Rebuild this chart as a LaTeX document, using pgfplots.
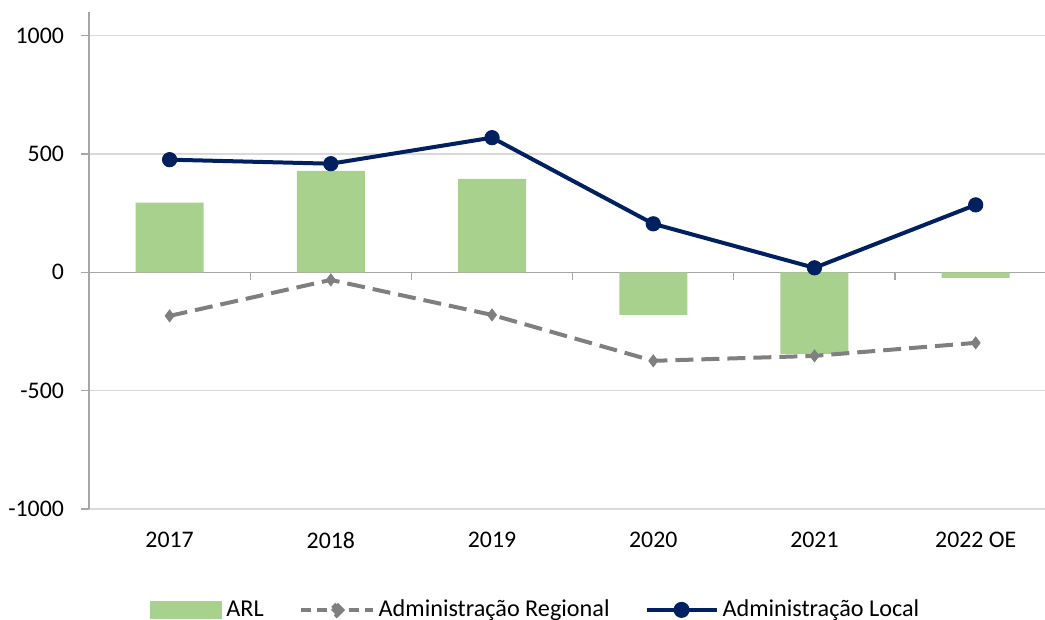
\documentclass[border=0pt]{standalone}
\usepackage{fontspec}
\setmainfont{Carlito}
\usepackage{pgfplots}
\pgfplotsset{compat=1.18}
\definecolor{barg}{HTML}{A9D18E}
\definecolor{navy}{HTML}{002060}
\definecolor{dgray}{HTML}{7F7F7F}
\definecolor{gridc}{HTML}{D9D9D9}
\definecolor{axc}{HTML}{A6A6A6}
\begin{document}
\begin{tikzpicture}
\useasboundingbox (0,0) rectangle (522.5pt,310pt);
\begin{axis}[
  at={(44.5pt,55.5pt)}, anchor=south west,
  scale only axis, width=478pt, height=248.5pt,
  xmin=-0.5, xmax=5.43, ymin=-1000, ymax=1100,
  axis x line*=bottom, axis y line*=left,
  x axis line style={draw=none},
  y axis line style={draw=axc, line width=0.6pt, -},
  xtick={0,1,2,3,4,5},
  xticklabels={2017,2018,2019,2020,2021,2022 OE},
  ytick={-1000,-500,500,1000},
  extra y ticks={0},
  extra y tick labels={0},
  extra y tick style={major grid style={draw=axc, line width=0.8pt}},
  ymajorgrids, major grid style={draw=gridc, line width=0.6pt},
  x tick style={draw=none},
  y tick style={draw=axc, line width=0.6pt},
  tick align=outside, major tick length=4pt,
  ticklabel style={font=\fontsize{11.9}{14}\selectfont, text=black},
  /pgf/number format/assume math mode=true,
  /pgf/number format/1000 sep={},
  xticklabel style={yshift=-4pt},
  yticklabel style={xshift=-5pt},
  clip=false,
  legend columns=3,
  legend style={draw=none, fill=none, inner sep=0pt,
    at={(axis description cs:0.0638,-0.203)}, anchor=west,
    font=\fontsize{12.1}{14}\selectfont,
    /tikz/every even column/.append style={column sep=15.5pt},
    nodes={inner sep=2pt}},
]
\addplot[ybar, bar width=34pt, fill=barg, draw=none,
  legend image code/.code={\fill[barg] (0pt,-4.5pt) rectangle (36pt,4.5pt);}]
  coordinates {(0,294) (1,429) (2,395) (3,-180) (4,-345) (5,-23)};
\addlegendentry{ARL}
\addplot[dgray, line width=2pt, dash pattern=on 9pt off 4pt, mark=diamond*, mark size=3pt, mark options={solid, line width=0.4pt},
  legend image code/.code={\draw[dgray, line width=2pt, dash pattern=on 5pt off 3pt] (0pt,0pt) -- (36pt,0pt);
    \fill[dgray] (18pt,2.8pt) -- (20.8pt,0pt) -- (18pt,-2.8pt) -- (15.2pt,0pt) -- cycle;}]
  coordinates {(0,-184) (1,-32) (2,-180) (3,-374) (4,-353) (5,-298)};
\addlegendentry{Administração Regional}
\addplot[navy, line width=2pt, mark=*, mark size=3.6pt, mark options={line width=0.4pt},
  legend image code/.code={\draw[navy, line width=2pt] (0pt,0pt) -- (35pt,0pt);
    \fill[navy] (17.5pt,0pt) circle (3pt);}]
  coordinates {(0,476) (1,459) (2,569) (3,205) (4,19) (5,285)};
\addlegendentry{Administração Local}
\draw[axc, line width=0.6pt] (axis cs:0.5,0) -- ++(0pt,-4pt);
\draw[axc, line width=0.6pt] (axis cs:1.5,0) -- ++(0pt,-4pt);
\draw[axc, line width=0.6pt] (axis cs:2.5,0) -- ++(0pt,-4pt);
\draw[axc, line width=0.6pt] (axis cs:3.5,0) -- ++(0pt,-4pt);
\draw[axc, line width=0.6pt] (axis cs:4.5,0) -- ++(0pt,-4pt);
\end{axis}
\end{tikzpicture}
\end{document}
